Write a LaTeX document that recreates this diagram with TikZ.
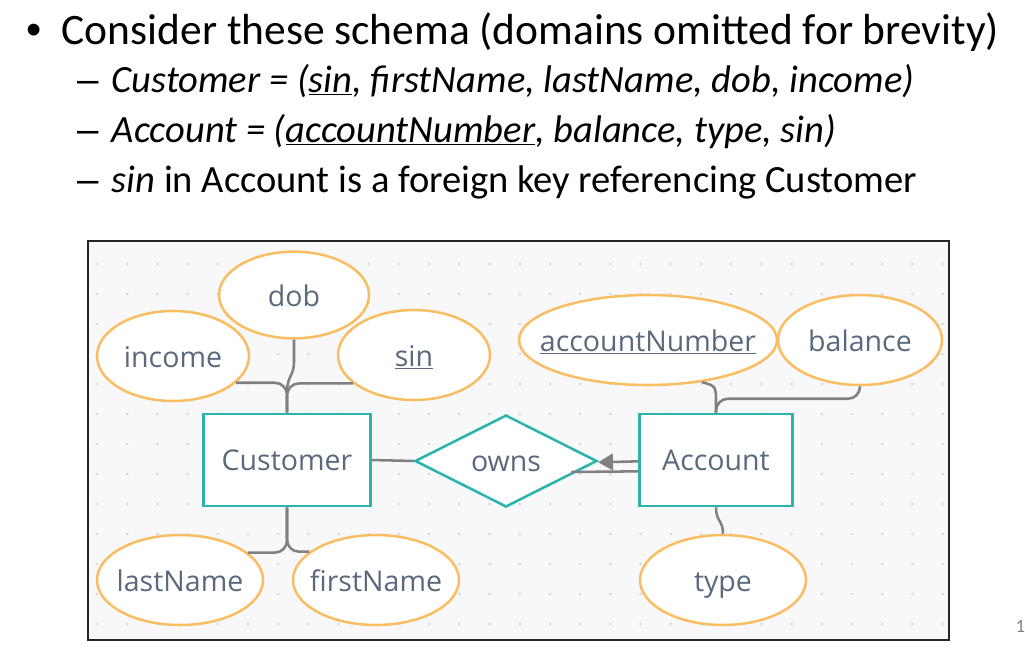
\documentclass[tikz,border=0pt]{standalone}
\usepackage{fontspec}
\setmainfont{Carlito}
\newfontfamily\diagfont{Open Sans}
\newfontfamily\markfont{Liberation Sans}
\usetikzlibrary{shapes.geometric,arrows.meta,calc}
\definecolor{entline}{HTML}{2BB3AE}
\definecolor{attrline}{HTML}{F9BE64}
\definecolor{linkgray}{HTML}{808080}
\definecolor{labeltext}{HTML}{5A6A7C}
\definecolor{panelbg}{HTML}{F8F8FB}
\definecolor{dotc}{HTML}{D6D9DF}
\tikzset{
	entity/.style={draw=entline, line width=1.9pt, fill=white, minimum height=69pt, inner sep=0pt, font=\diagfont\fontsize{21.4}{24}\selectfont, text=labeltext, text height=16pt, text depth=0pt},
	attr/.style={ellipse, draw=attrline, line width=1.9pt, fill=white, inner sep=0pt, minimum height=67.5pt, font=\diagfont\fontsize{21.4}{24}\selectfont, text=labeltext, text height=17pt, text depth=0pt},
	link/.style={draw=linkgray, line width=1.9pt},
	bigline/.style={anchor=base west, font=\fontsize{32.6}{36}\selectfont},
	subline/.style={anchor=base west, font=\fontsize{28.9}{32}\selectfont},
}
\newcommand{\attrtext}[1]{\makebox[0pt]{#1}}
\begin{document}
\begin{tikzpicture}[x=0.75pt,y=-0.75pt]
				\useasboundingbox (0,0) rectangle (1025,658);
				% slide text
				\node[bigline] (bul) at (22,44) {\markfont •};
				\node[bigline] (l1) at (57,44) {Consider these schema (domains omitted for brevity)};
				\node[subline] (d2) at (73,92) {\markfont –};
				\node[subline] (l2) at (107,92) {\itshape Customer = (\underline{sin}, firstName, lastName, dob, income)};
				\node[subline] (d3) at (73,142) {\markfont –};
				\node[subline] (l3) at (107,142) {\itshape Account = (\underline{accountNumber}, balance, type, sin)};
				\node[subline] (d4) at (73,192) {\markfont –};
				\node[subline] (l4) at (107,192) {\textit{sin} in Account is a foreign key referencing Customer};
				\node[anchor=base west, text=gray, font=\fontsize{14}{16}\selectfont] (pg) at (1011,632) {15};
				% panel with dot grid
				\draw[fill=panelbg, draw=black!85, line width=1.1pt] (88,241) rectangle (949,640);
				\foreach \i in {0,...,28}
					\foreach \j in {0,...,12}
						\fill[dotc] (97+30.2*\i, 264+30*\j) circle (1.1pt);
				% entities and relationship
				\node[entity, minimum width=125pt] (cust) at (287,460) {Customer};
				\node[entity, minimum width=115pt] (acct) at (716,460) {Account};
				\node[entity, diamond, minimum width=136.5pt, minimum height=69pt, aspect=2] (owns) at (506,461) {owns};
				% attributes
				\node[attr, minimum width=112.5pt, minimum height=65pt] (dob) at (294,295) {\attrtext{dob}};
				\node[attr, minimum width=114pt] (inc) at (173,356) {\attrtext{income}};
				\node[attr, minimum width=114pt] (sinA) at (414,355) {\attrtext{\underline{sin}}};
				\node[attr, minimum width=124.5pt] (lastN) at (180,580) {\attrtext{lastName}};
				\node[attr, minimum width=124.5pt] (firstN) at (376,580) {\attrtext{firstName}};
				\node[attr, minimum width=193.5pt] (accN) at (648,340) {\attrtext{\underline{accountNumber}}};
				\node[attr, minimum width=123pt] (bal) at (860,340) {\attrtext{balance}};
				\node[attr, minimum width=124.5pt] (type) at (723,580) {\attrtext{type}};
				% connectors
				\draw[link, rounded corners=9pt] (cust.north) |- (inc.-23);
				\draw[link, rounded corners=9pt] (cust.north) |- (sinA.205);
				\draw[link] (dob.south) -- (294,362) .. controls (294,376) and (287,376) .. (287,392);
				\draw[link, rounded corners=9pt] (cust.south) |- (lastN.22);
				\draw[link, rounded corners=9pt] (cust.south) |- (firstN.157);
				\draw[link] (cust.east) -- (owns.west);
				\draw[link, -{Triangle[length=11pt,width=12.5pt]}] ([yshift=-1pt]acct.west) -- ([yshift=-1pt]owns.east);
				\draw[link] ([yshift=-8.5pt]acct.west) -- ($(owns.east)+(-27,11)$);
				\draw[link, rounded corners=9pt] (acct.north) -- ++(0,-14) -| (bal.south);
				\draw[link] (accN.-38) .. controls (716,386) .. (716,404) -- (acct.north);
				\draw[link] (acct.south) .. controls (716,522) and (723,520) .. (type.north);
			\end{tikzpicture}
\end{document}
